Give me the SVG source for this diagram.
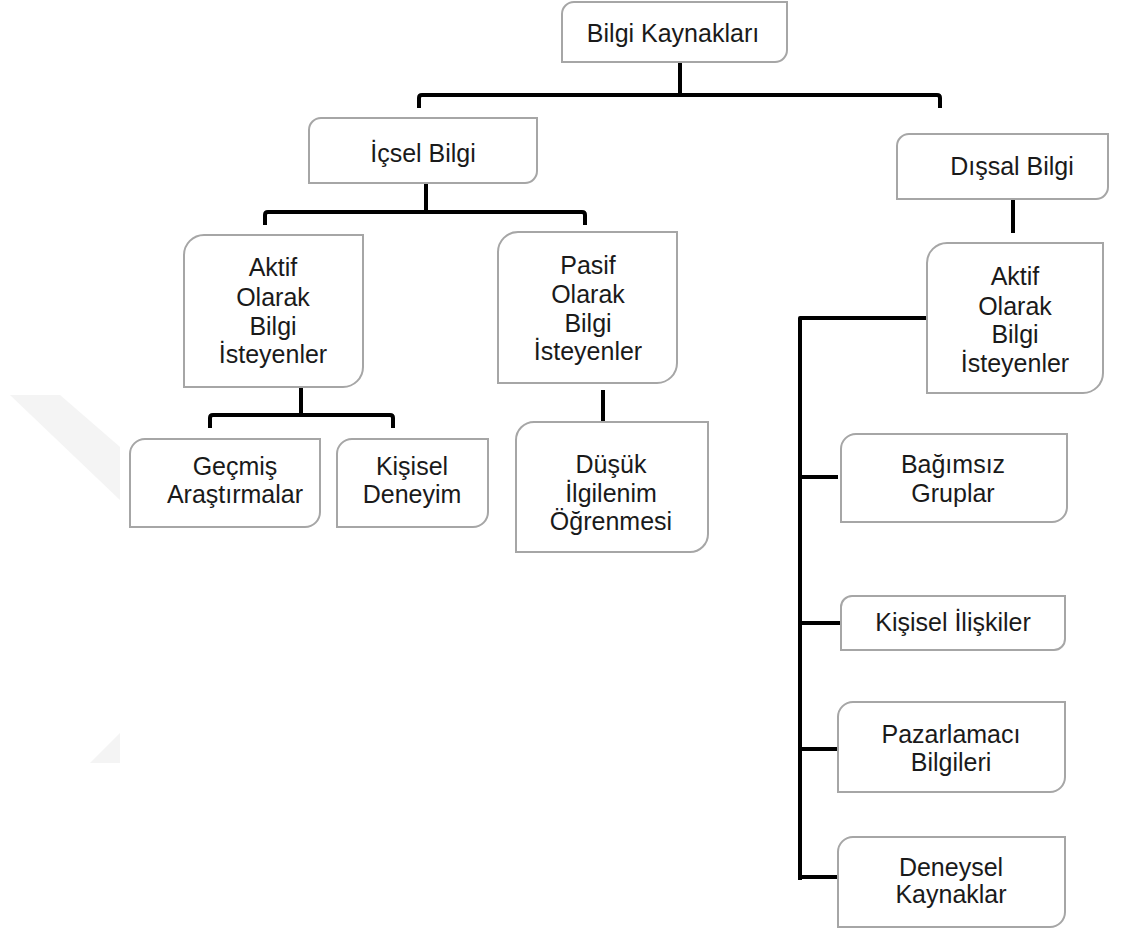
<svg xmlns="http://www.w3.org/2000/svg" width="1129" height="933" viewBox="0 0 1129 933">
  <style>
    .box { fill: #ffffff; stroke: #a6a6a6; stroke-width: 2; }
    .lbl { font-family: "Liberation Sans", Arial, sans-serif; font-size: 25px; fill: #1a1a1a; text-anchor: middle; }
    .link { fill: none; stroke: #000000; stroke-width: 4; stroke-linejoin: round; stroke-linecap: butt; }
    .wm { fill: #f4f4f4; }
  </style>

  <rect x="0" y="0" width="1129" height="933" fill="#ffffff"/>

  <!-- faint background mark at left edge -->
  <g id="backdrop">
    <polygon class="wm" points="10,395 60,395 120,447 120,500"/>
    <polygon class="wm" points="120,733 120,763 90,763"/>
  </g>

  <!-- connectors -->
  <g id="connectors">
    <path class="link" d="M680,62 V95"/>
    <path class="link" d="M419,108 V98 Q419,95 422,95 H937 Q940,95 940,98 V108"/>
    <path class="link" d="M426,184 V212"/>
    <path class="link" d="M265,225 V215 Q265,212 268,212 H582 Q585,212 585,215 V225"/>
    <path class="link" d="M301,388 V415"/>
    <path class="link" d="M210,428 V418 Q210,415 213,415 H390 Q393,415 393,418 V428"/>
    <path class="link" d="M603,390 V421"/>
    <path class="link" d="M1013,200 V233"/>
    <path class="link" d="M927,318 H800 V880"/>
    <path class="link" d="M800,477 H838"/>
    <path class="link" d="M800,623 H840"/>
    <path class="link" d="M800,749 H838"/>
    <path class="link" d="M800,877 H838"/>
  </g>

  <!-- root -->
  <g id="bilgi-kaynaklari">
    <path class="box" d="M574,2 H787 V50 A12,12 0 0 1 775,62 H562 V14 A12,12 0 0 1 574,2 Z"/>
    <text class="lbl" x="673" y="42">Bilgi Kaynakları</text>
  </g>

  <g id="icsel-bilgi">
    <path class="box" d="M321,118 H537 V171 A12,12 0 0 1 525,183 H309 V130 A12,12 0 0 1 321,118 Z"/>
    <text class="lbl" x="423" y="162">İçsel Bilgi</text>
  </g>

  <g id="dissal-bilgi">
    <path class="box" d="M909,134 H1108 V187 A12,12 0 0 1 1096,199 H897 V146 A12,12 0 0 1 909,134 Z"/>
    <text class="lbl" x="1012" y="175">Dışsal Bilgi</text>
  </g>

  <g id="aktif-icsel">
    <path class="box" d="M204,235 H363 V367 A20,20 0 0 1 343,387 H184 V255 A20,20 0 0 1 204,235 Z"/>
    <text class="lbl" x="273" y="276">Aktif</text>
    <text class="lbl" x="273" y="306">Olarak</text>
    <text class="lbl" x="273" y="335">Bilgi</text>
    <text class="lbl" x="273" y="363">İsteyenler</text>
  </g>

  <g id="pasif-icsel">
    <path class="box" d="M518,232 H677 V363 A20,20 0 0 1 657,383 H498 V252 A20,20 0 0 1 518,232 Z"/>
    <text class="lbl" x="588" y="274">Pasif</text>
    <text class="lbl" x="588" y="303">Olarak</text>
    <text class="lbl" x="588" y="332">Bilgi</text>
    <text class="lbl" x="588" y="360">İsteyenler</text>
  </g>

  <g id="dusuk-ilgilenim">
    <path class="box" d="M534,422 H708 V534 A18,18 0 0 1 690,552 H516 V440 A18,18 0 0 1 534,422 Z"/>
    <text class="lbl" x="611" y="473">Düşük</text>
    <text class="lbl" x="611" y="502">İlgilenim</text>
    <text class="lbl" x="611" y="530">Öğrenmesi</text>
  </g>

  <g id="gecmis-arastirmalar">
    <path class="box" d="M145,439 H320 V512 A15,15 0 0 1 305,527 H130 V454 A15,15 0 0 1 145,439 Z"/>
    <text class="lbl" x="235" y="475">Geçmiş</text>
    <text class="lbl" x="235" y="503">Araştırmalar</text>
  </g>

  <g id="kisisel-deneyim">
    <path class="box" d="M352,439 H488 V512 A15,15 0 0 1 473,527 H337 V454 A15,15 0 0 1 352,439 Z"/>
    <text class="lbl" x="412" y="475">Kişisel</text>
    <text class="lbl" x="412" y="503">Deneyim</text>
  </g>

  <g id="aktif-dissal">
    <path class="box" d="M947,243 H1103 V373 A20,20 0 0 1 1083,393 H927 V263 A20,20 0 0 1 947,243 Z"/>
    <text class="lbl" x="1015" y="285">Aktif</text>
    <text class="lbl" x="1015" y="315">Olarak</text>
    <text class="lbl" x="1015" y="343">Bilgi</text>
    <text class="lbl" x="1015" y="372">İsteyenler</text>
  </g>

  <g id="bagimsiz-gruplar">
    <path class="box" d="M856,434 H1067 V507 A15,15 0 0 1 1052,522 H841 V449 A15,15 0 0 1 856,434 Z"/>
    <text class="lbl" x="953" y="473">Bağımsız</text>
    <text class="lbl" x="953" y="502">Gruplar</text>
  </g>

  <g id="kisisel-iliskiler">
    <path class="box" d="M852,596 H1065 V639 A11,11 0 0 1 1054,650 H841 V607 A11,11 0 0 1 852,596 Z"/>
    <text class="lbl" x="953" y="631">Kişisel İlişkiler</text>
  </g>

  <g id="pazarlamaci-bilgileri">
    <path class="box" d="M853,702 H1065 V777 A15,15 0 0 1 1050,792 H838 V717 A15,15 0 0 1 853,702 Z"/>
    <text class="lbl" x="951" y="743">Pazarlamacı</text>
    <text class="lbl" x="951" y="771">Bilgileri</text>
  </g>

  <g id="deneysel-kaynaklar">
    <path class="box" d="M853,837 H1065 V912 A15,15 0 0 1 1050,927 H838 V852 A15,15 0 0 1 853,837 Z"/>
    <text class="lbl" x="951" y="876">Deneysel</text>
    <text class="lbl" x="951" y="903">Kaynaklar</text>
  </g>
</svg>
